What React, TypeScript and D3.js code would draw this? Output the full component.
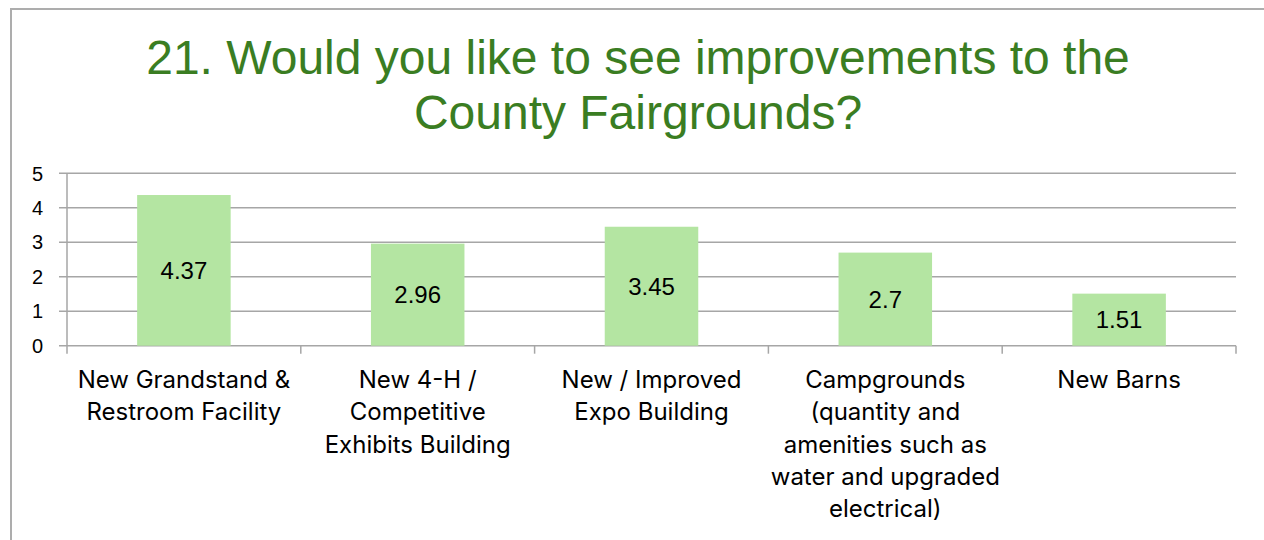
import React from "react";
import * as d3 from "d3";

const categories = [
  "New Grandstand & Restroom Facility",
  "New 4-H / Competitive Exhibits Building",
  "New / Improved Expo Building",
  "Campgrounds (quantity and amenities such as water and upgraded electrical)",
  "New Barns",
];
const categoryLines = [
  ["New Grandstand &", "Restroom Facility"],
  ["New 4-H /", "Competitive", "Exhibits Building"],
  ["New / Improved", "Expo Building"],
  ["Campgrounds", "(quantity and", "amenities such as", "water and upgraded", "electrical)"],
  ["New Barns"],
];
const values = [4.37, 2.96, 3.45, 2.7, 1.51];
const yTicks = [0, 1, 2, 3, 4, 5];
const titleLines = ["21. Would you like to see improvements to the", "County Fairgrounds?"];

export default function App() {
  const W = 1264, H = 540;
  const left = 67, right = 1236, top = 173.3, bottom = 345.7;
  const x = d3.scaleBand<string>().domain(categories).range([left, right]).paddingInner(0.6).paddingOuter(0.3);
  const xOuter = d3.scaleBand<string>().domain(categories).range([left, right]);
  const y = d3.scaleLinear().domain([0, 5]).range([bottom, top]);
  const grid = "#a6a6a6";
  return (
    <svg width={W} height={H} style={{ position: "absolute", left: 0, top: 0, background: "#fff" }}>
      <rect x={11} y={9} width={1270} height={560} fill="#fff" stroke="#adadad" strokeWidth={2} />
      <g fontFamily="'Liberation Sans', Arial, sans-serif" fill="#3A7D22" fontSize={48} textAnchor="middle">
        {titleLines.map((t, i) => (
          <text key={i} x={638} y={74 + i * 55}>{t}</text>
        ))}
      </g>
      {yTicks.map((t) => (
        <g key={t}>
          <line x1={59} x2={right} y1={y(t)} y2={y(t)} stroke={grid} strokeWidth={1.5} />
          <text x={43} y={y(t)} dy="0.36em" textAnchor="end" fontSize={20} fontFamily="'Liberation Sans', Arial, sans-serif" fill="#000">{t}</text>
        </g>
      ))}
      <line x1={left} x2={left} y1={top} y2={bottom + 8} stroke={grid} strokeWidth={1.5} />
      {categories.map((c, i) => (
        <line key={"tk" + i} x1={(xOuter(c) as number) + xOuter.bandwidth()} x2={(xOuter(c) as number) + xOuter.bandwidth()} y1={bottom} y2={bottom + 8} stroke={grid} strokeWidth={1.5} />
      ))}
      {categories.map((c, i) => {
        const bx = x(c) as number;
        const v = values[i];
        return (
          <g key={c}>
            <rect x={bx} y={y(v)} width={x.bandwidth()} height={bottom - y(v)} fill="#B4E5A2" />
            <text x={bx + x.bandwidth() / 2} y={(y(v) + bottom) / 2} dy="0.36em" textAnchor="middle" fontSize={24} fontFamily="'Liberation Sans', Arial, sans-serif" fill="#000">{String(v)}</text>
          </g>
        );
      })}
      {categories.map((c, i) => {
        const cx = (xOuter(c) as number) + xOuter.bandwidth() / 2;
        return (
          <text key={"lb" + i} textAnchor="middle" fontSize={24} fontFamily="Inter, 'Open Sans', sans-serif" fill="#000">
            {categoryLines[i].map((l, j) => (
              <tspan key={j} x={cx} y={388 + j * 32.3}>{l}</tspan>
            ))}
          </text>
        );
      })}
    </svg>
  );
}
